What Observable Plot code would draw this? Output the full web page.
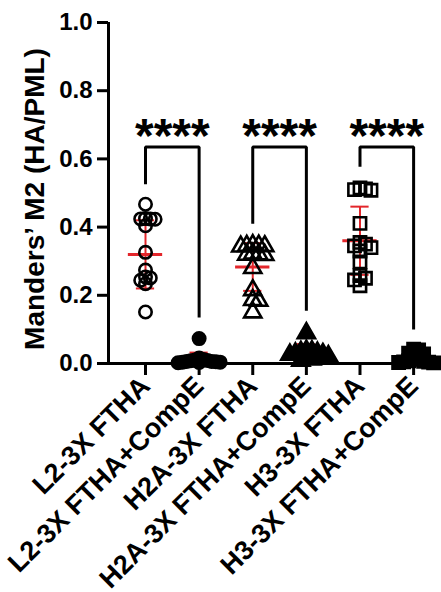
<!DOCTYPE html>
<html>
<head>
<meta charset="utf-8">
<script src="https://cdn.jsdelivr.net/npm/d3@7"></script>
<script src="https://cdn.jsdelivr.net/npm/@observablehq/plot@0.6"></script>
<style>
  html, body { margin: 0; padding: 0; background: #fff; }
  #chart svg { display: block; }
</style>
</head>
<body>
<div id="chart"></div>
<script>
// ---- data ----
const categories = ["L2-3X FTHA", "L2-3X FTHA+CompE", "H2A-3X FTHA", "H2A-3X FTHA+CompE", "H3-3X FTHA", "H3-3X FTHA+CompE"];
const l2 = [0.467, 0.424, 0.425, 0.423, 0.424, 0.404, 0.326, 0.274, 0.251, 0.244, 0.234, 0.254, 0.151];
const l2Comp = [0.073, 0.016, 0.012, 0.010, 0.008, 0.006, 0.005, 0.004, 0.004, 0.003, 0.006, 0.009, 0.002];
const h2a = [0.345, 0.347, 0.343, 0.346, 0.344, 0.32, 0.318, 0.322, 0.319, 0.28, 0.215, 0.186, 0.184, 0.15];
const h2aComp = [0.089, 0.038, 0.036, 0.034, 0.032, 0.030, 0.028, 0.026, 0.022, 0.018, 0.012, 0.008];
const h3 = [0.512, 0.508, 0.51, 0.515, 0.411, 0.355, 0.35, 0.345, 0.34, 0.33, 0.298, 0.25, 0.245, 0.258, 0.228];
const h3Comp = [0.042, 0.04, 0.03, 0.028, 0.015, 0.012, 0.008, 0.005, 0.004, 0.003, 0.002, 0.006];
const means = [0.32, 0.013, 0.283, 0.032, 0.36, 0.016];
const sds = [0.10, 0.019, 0.07, 0.025, 0.10, 0.014];
const yTicks = [0, 0.2, 0.4, 0.6, 0.8, 1.0];
const yTitle = "Manders\u2019 M2 (HA/PML)";
const bracketPairs = [[0, 1], [2, 3], [4, 5]];
const bracketTop = 0.635;
const bracketLeftEnd = [0.526, 0.41, 0.577];
const bracketRightEnd = [0.135, 0.155, 0.10];
const starLabel = "****";
const starLevel = 0.70;

// ---- layout ----
const W = 441, H = 592, mL = 108, mR = 0, mT = 22, mB = 229;
const xDomain = [-0.69, 5.52];
const pxPerUnit = (W - mL - mR) / (xDomain[1] - xDomain[0]);
const yPx = v => mT + (1 - v) * (H - mT - mB);
const FONT = "'Liberation Sans', Arial, Helvetica, sans-serif";
const RED = "#e3262b";

const groups = [l2, l2Comp, h2a, h2aComp, h3, h3Comp];
const shapes = ["circle", "circle", "triangle", "triangle", "square", "square"];
const filled = [false, true, false, true, false, true];
const radii = [6.2, 6.2, 6.4, 6.4, 6.9, 6.9];
const spread = [4.8, 4.2, 6.0, 5.5, 5.5, 5.0];

// simple beeswarm (pixel space) so overlapping values spread sideways
function swarm(vals, dmin, step) {
  const order = vals.map((_, k) => k).sort((a, b) => vals[b] - vals[a]);
  const placed = [];
  const off = new Array(vals.length);
  for (const k of order) {
    const y = yPx(vals[k]);
    for (let j = 0; j < 200; j++) {
      const c = (j % 2 ? 1 : -1) * Math.ceil(j / 2) * step;
      if (placed.every(p => Math.hypot(p.x - c, p.y - y) >= dmin)) {
        off[k] = c; placed.push({x: c, y}); break;
      }
    }
  }
  return off.map(o => o / pxPerUnit);
}

const dotMarks = groups.map((vals, i) => {
  const offs = swarm(vals, spread[i], spread[i]);
  const rows = vals.map((v, k) => ({x: i + offs[k], y: v}));
  return Plot.dot(rows, {
    x: "x", y: "y", symbol: shapes[i], r: radii[i],
    fill: filled[i] ? "black" : "none", stroke: "black", strokeWidth: 2.6
  });
});

const stats = means.map((m, i) => ({i, m, lo: Math.max(0, m - sds[i]), hi: m + sds[i]}));

const bracketRows = bracketPairs.flatMap(([a, b], k) => [
  {k, x: a, y: bracketLeftEnd[k]},
  {k, x: a, y: bracketTop},
  {k, x: b, y: bracketTop},
  {k, x: b, y: bracketRightEnd[k]}
]);
const starRows = bracketPairs.map(([a, b]) => ({x: (a + b) / 2, y: starLevel}));

const plot = Plot.plot({
  width: W, height: H,
  marginLeft: mL, marginRight: mR, marginTop: mT, marginBottom: mB,
  style: {fontFamily: FONT, background: "white", color: "black", overflow: "visible"},
  x: {domain: xDomain},
  y: {domain: [0, 1]},
  marks: [
    Plot.axisY({ticks: yTicks, tickFormat: d => d.toFixed(1), tickSize: 11, tickPadding: 5,
      fontSize: 24, fontWeight: "bold", strokeWidth: 3, label: null}),
    Plot.axisX({ticks: d3.range(categories.length), tickFormat: i => categories[i], tickRotate: -45,
      tickSize: 12, tickPadding: 6, fontSize: 27, fontWeight: "bold", strokeWidth: 3, label: null}),
    Plot.ruleX([xDomain[0]], {y1: 0, y2: 1, strokeWidth: 3}),
    Plot.ruleY([0], {strokeWidth: 3}),
    Plot.text([yTitle], {frameAnchor: "left", textAnchor: "middle", rotate: -90, dx: -73, dy: 6,
      fontSize: 28, fontWeight: "bold"}),
    // error bars (mean ± SD)
    Plot.ruleX(stats, {x: "i", y1: "lo", y2: "hi", stroke: RED, strokeWidth: 2}),
    Plot.ruleY(stats, {y: "hi", x1: d => d.i - 0.17, x2: d => d.i + 0.17, stroke: RED, strokeWidth: 2}),
    Plot.ruleY(stats, {y: "lo", x1: d => d.i - 0.17, x2: d => d.i + 0.17, stroke: RED, strokeWidth: 2}),
    Plot.ruleY(stats, {y: "m", x1: d => d.i - 0.32, x2: d => d.i + 0.32, stroke: RED, strokeWidth: 3}),
    ...dotMarks,
    // significance brackets
    Plot.line(bracketRows, {x: "x", y: "y", z: "k", strokeWidth: 3, strokeLinejoin: "miter", strokeLinecap: "butt"}),
    Plot.text(starRows, {x: "x", y: "y", text: () => starLabel, fontSize: 48, fontWeight: "bold", dy: 12})
  ]
});
document.getElementById("chart").append(plot);
</script>
</body>
</html>
